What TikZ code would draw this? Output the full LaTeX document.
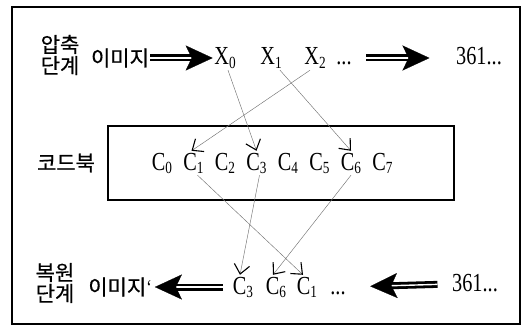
\documentclass[tikz,border=0pt]{standalone}
\usepackage{fontspec}
\setmainfont{Liberation Serif}[FakeStretch=0.78]
\newfontfamily\kr{Noto Sans CJK KR}[FakeBold=0.6]
\usetikzlibrary{arrows.meta,calc}
\newcommand\sbs[1]{\raisebox{-0.3ex}{\fontsize{17}{17}\selectfont #1}}
\tikzset{
  lat/.style={font=\fontsize{26}{26}\selectfont, inner xsep=1.5pt, inner ysep=2pt, text height=17pt, text depth=3pt},
  kor/.style={font=\kr\fontsize{21}{21}\selectfont, inner sep=0pt, align=center},
  link/.style={draw=black!55, line width=0.45pt, -{Straight Barb[angle=80:12pt, line width=1.1pt, color=black]}},
  headst/.style={line width=0.2pt, -{Stealth[length=27pt,width=25pt,inset=6pt]}},
  shaftst/.style={line width=2.8pt, double=white, double distance=1.4pt},
}
\newcommand\bigarr[4]{%
  \draw[shaftst] ($(#1)!#3!(#2)$) -- ($(#2)!#4+19pt!(#1)$);
  \draw[headst] ($(#2)!#4+3pt!(#1)$) -- ($(#2)!#4!(#1)$);}
\begin{document}
\begin{tikzpicture}[x=1pt,y=-1pt]
\useasboundingbox (0,0) rectangle (526,334);
\draw[line width=1.5pt] (12,7) rectangle (520,324);
\node[draw, line width=1.2pt, minimum width=346pt, minimum height=74pt, inner sep=0pt] (cb) at (281,163) {};

% top row
\node[kor] (lab1) at (60,55) {압축\\단계};
\node[kor] (img1) at (120,58) {이미지};
\node[lat] (x0) at (225,58) {X\sbs{0}};
\node[lat] (x1) at (271,58) {X\sbs{1}};
\node[lat] (x2) at (315,58) {X\sbs{2}};
\node[lat] (d1) at (344,58) {...};
\node[lat] (n1) at (479,58) {361...};

% codebook
\node[kor] (cbl) at (66,163) {코드북};
\foreach \i/\x in {0/162,1/193.5,2/225,3/256.5,4/288,5/319.5,6/351,7/382.5}
  \node[lat] (c\i) at (\x,163) {C\sbs{\i}};

% bottom row
\node[kor] (lab2) at (55,283) {복원\\단계};
\node[kor] (img2) at (120,287) {이미지{\rmfamily ‘}};
\node[lat] (b3) at (243,287) {C\sbs{3}};
\node[lat] (b6) at (276,287) {C\sbs{6}};
\node[lat] (b1) at (307,287) {C\sbs{1}};
\node[lat] (d2) at (338,287) {...};
\node[lat] (n2) at (475,284) {361...};

% big arrows
\bigarr{img1.east}{x0.west}{1pt}{0pt}
\bigarr{d1.east}{n1.west}{13pt}{25pt}
\bigarr{b3.west}{img2.east}{8pt}{3pt}
\bigarr{n2.west}{d2.east}{13pt}{23pt}

% links
\draw[link] ([xshift=3pt]x0.south) -- (c3.north);
\draw[link] ([xshift=-5pt]x2.south) -- ([xshift=-2pt]c1.north);
\draw[link] ([xshift=9pt]x1.south) -- (c6.north);
\draw[link] ([xshift=4pt]c1.south) -- ([xshift=-4pt]b1.north);
\draw[link] ([xshift=3pt]c3.south) -- ([xshift=-3pt]b3.north);
\draw[link] (c6.south) -- ([xshift=-3pt]b6.north);
\end{tikzpicture}
\end{document}
